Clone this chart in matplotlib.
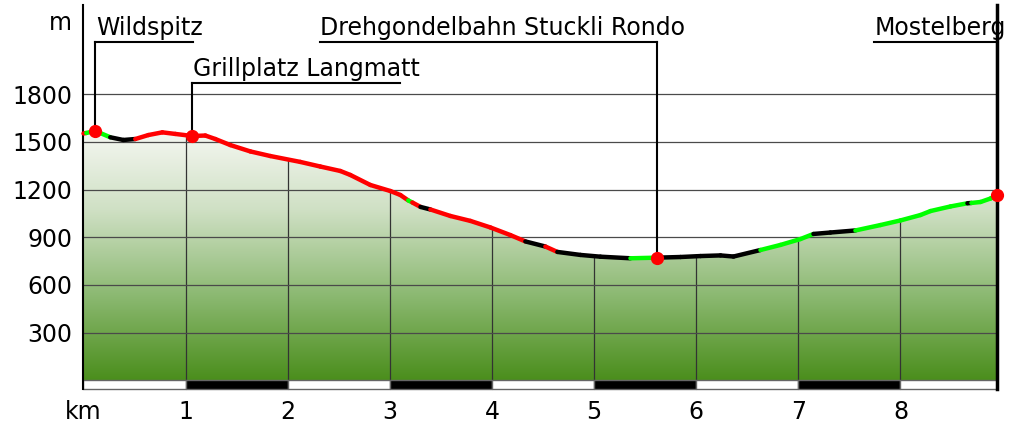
import numpy as np
import matplotlib.pyplot as plt
import matplotlib.transforms as mtransforms
from matplotlib.collections import LineCollection
from matplotlib.colors import LinearSegmentedColormap
from matplotlib.patches import Polygon, Rectangle

# profile (km, m)
km = [0.0, 0.027, 0.116, 0.262, 0.390, 0.507, 0.635, 0.772, 0.899, 1.067, 1.193,
      1.291, 1.438, 1.634, 1.830, 2.123, 2.319, 2.515, 2.613, 2.809, 3.005, 3.103,
      3.18, 3.22, 3.30, 3.397, 3.593, 3.789, 3.984, 4.180, 4.327, 4.523, 4.640,
      4.866, 5.062, 5.356, 5.620, 5.846, 6.042, 6.238, 6.365, 6.629, 6.825, 7.021,
      7.148, 7.314, 7.559, 7.804, 8.000, 8.196, 8.294, 8.490, 8.656, 8.695, 8.784,
      8.882, 8.950]
elev = [1553, 1556, 1569, 1529, 1512, 1518, 1543, 1560, 1550, 1537, 1540,
        1518, 1480, 1440, 1411, 1374, 1345, 1317, 1292, 1229, 1191, 1166,
        1132, 1119, 1091, 1075, 1034, 1003, 962, 914, 874, 842, 808,
        789, 778, 768, 772, 776, 782, 786, 779, 820, 852, 889,
        921, 930, 943, 977, 1006, 1040, 1065, 1094, 1114, 1116, 1122,
        1144, 1166]

# colour sections of the track (start km)
sec_start = [0, 0.027, 0.262, 0.507, 3.18, 3.22, 3.30, 3.40, 4.327, 4.523, 4.64,
             5.356, 5.62, 6.629, 7.148, 7.559, 8.656, 8.695]
sec_color = ['#ff0000', '#00ff00', '#000000', '#ff0000', '#00ff00', '#ff0000',
             '#000000', '#ff0000', '#000000', '#ff0000', '#000000', '#00ff00',
             '#000000', '#00ff00', '#000000', '#00ff00', '#000000', '#00ff00']

# points of interest
poi_names = ['Wildspitz', 'Grillplatz Langmatt', 'Drehgondelbahn Stuckli Rondo', 'Mostelberg']
poi_km = [0.116, 1.067, 5.620, 8.950]
poi_elev = [1569, 1537, 772, 1166]

x_ticks = [0, 1, 2, 3, 4, 5, 6, 7, 8]
x_labels = ['km', '1', '2', '3', '4', '5', '6', '7', '8']
y_ticks = [300, 600, 900, 1200, 1500, 1800]

plt.rcParams['font.family'] = 'DejaVu Sans'
fs = 17

fig = plt.figure(figsize=(10.17, 4.26), dpi=100)
ax = fig.add_axes([0.0821, 0.0869, 0.8987, 0.9014])
km_end = km[-1]
y_bot, y_top = -54, 2361

# gradient fill under the profile
verts = [(0, 0)] + list(zip(km, elev)) + [(km_end, 0)]
poly = Polygon(verts, closed=True, facecolor='none', edgecolor='none')
ax.add_patch(poly)
cmap = LinearSegmentedColormap.from_list('g', ['#4b8e1c', '#8cb972', '#cfe0c4', '#f8f9f5'])
grad = np.linspace(0, 1, 256).reshape(-1, 1)
im = ax.imshow(grad, extent=[0, km_end, 0, 1600], origin='lower', aspect='auto',
               cmap=cmap, zorder=1)
im.set_clip_path(poly)

# grid
vl = ax.vlines(x_ticks[1:], 0, 2000, colors='#333333', lw=0.9, zorder=2)
vl.set_clip_path(poly)
ax.hlines(y_ticks, 0, km_end, colors='#4a4a4a', lw=0.9, zorder=2)

# km scale bar
for i in range(int(np.ceil(km_end))):
    x1 = min(i + 1, km_end)
    ax.add_patch(Rectangle((i, y_bot), x1 - i, -y_bot,
                           facecolor='black' if i % 2 else 'white',
                           edgecolor='#666666', lw=1.0, zorder=2, clip_on=False))

# coloured track
pts = np.column_stack([km, elev])
segs = np.stack([pts[:-1], pts[1:]], axis=1)
mids = (np.array(km[:-1]) + np.array(km[1:])) / 2
idx = np.searchsorted(sec_start, mids, side='right') - 1
lc = LineCollection(segs, colors=[sec_color[i] for i in idx], linewidths=3.2,
                    capstyle='round', joinstyle='round', zorder=4, clip_on=False)
ax.add_collection(lc)

# annotations
line_y = [2128, 1870, 2128, 2128]
text_x = [0.125, 1.075, 2.32, 7.745]
line_x1 = [1.075, 3.103, 5.62, 8.95]
for name, mk, me, ly, tx, x1 in zip(poi_names, poi_km, poi_elev, line_y, text_x, line_x1):
    ax.plot([mk, mk], [me, ly], color='black', lw=1.5, zorder=3)
    ax.plot([min(tx, mk), x1], [ly, ly], color='black', lw=1.5, zorder=3)
    ax.text(tx, ly + 45, name, fontsize=fs, va='baseline', ha='left', zorder=5,
            clip_on=False)
ax.plot(poi_km, poi_elev, 'o', color='#ff0000', ms=8.5, zorder=6, clip_on=False)

ax.set_xlim(0, km_end)
ax.set_ylim(y_bot, y_top)
ax.set_xticks(x_ticks)
ax.set_xticklabels(x_labels, fontsize=fs)
ax.set_yticks(y_ticks)
ax.set_yticklabels([str(v) for v in y_ticks], fontsize=fs)
ax.tick_params(length=0)
ax.tick_params(axis='x', pad=8)
ax.tick_params(axis='y', pad=8)
trans = mtransforms.blended_transform_factory(ax.transAxes, ax.transData)
ax.text(-0.0125, 2250, 'm', transform=trans, fontsize=fs, ha='right', va='center')

for s in ['top', 'bottom']:
    ax.spines[s].set_visible(False)
ax.spines['left'].set_linewidth(1.5)
ax.spines['right'].set_linewidth(2.5)

fig.savefig('out.png', dpi=100)
